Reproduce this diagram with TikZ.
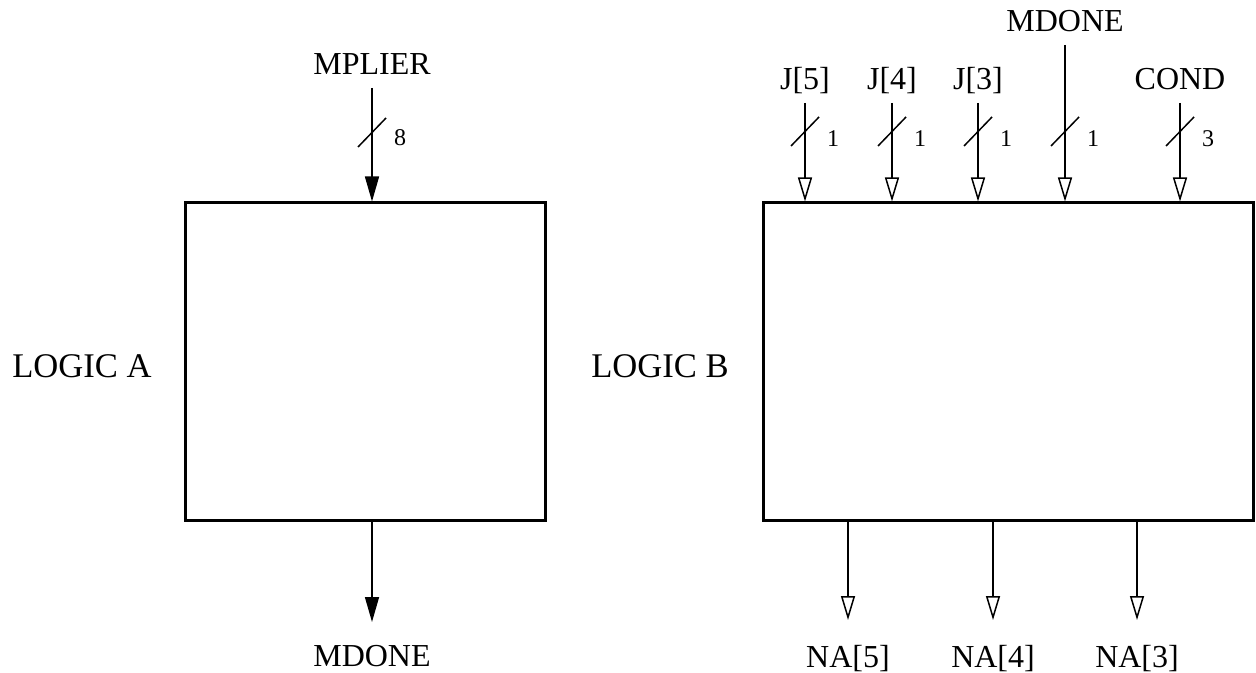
\documentclass[tikz,border=0pt]{standalone}
\usepackage{fontspec}
\setmainfont{Liberation Serif}
\usetikzlibrary{positioning,arrows.meta}

\begin{document}
\begin{tikzpicture}[x=0.5pt, y=-0.5pt, font=\fontsize{16}{19}\selectfont,
  blockbox/.style={draw, line width=1.5pt, inner sep=0pt},
  blockname/.style={anchor=base, inner sep=0pt, font=\fontsize{17.3}{20}\selectfont},
  busline/.style={line width=0.75pt},
  solidin/.style={busline, -{Triangle[length=12.5pt,width=7pt]}},
  openin/.style={busline, -{Triangle[open,length=12pt,width=7pt]}},
  signame/.style={anchor=base, inner sep=0pt},
  widthlabel/.style={font=\fontsize{12}{14}\selectfont, inner sep=0pt}]
  \useasboundingbox (0,0) rectangle (1256,673);
  \clip (0,0) rectangle (1256,673);
  % the two blocks
  \node[blockbox, minimum width=180pt, minimum height=158.5pt] (logica) at (365,361.5) {};
  \node[blockbox, minimum width=245pt, minimum height=158.5pt] (logicb) at (1008,361.5) {};
  \node[blockname] (namea) at (82,377) {LOGIC A};
  \node[blockname] (nameb) at (660,377) {LOGIC B};
  % logic A: input and output
  \node[signame] (mplier) at (372,75) {MPLIER};
  \coordinate (mplierin) at (372,88);
  \draw[solidin] (mplierin) -- (mplierin |- logica.north);
  \draw[busline] (372,132.5) ++(-14,14.5) -- ++(28,-29);
  \node[widthlabel] (mplierw) at (400,138) {8};
  \coordinate (mdoneout) at (372,622);
  \draw[solidin] (mdoneout |- logica.south) -- (mdoneout);
  \node[signame] (mdonea) at (372,666) {MDONE};
  % logic B: inputs
  \foreach \x/\n/\w/\lab in {805/j5/1/{J[5]}, 892/j4/1/{J[4]}, 978/j3/1/{J[3]}, 1180/cond/3/{COND}}{
     \node[signame] (\n) at (\x,90) {\lab};
     \coordinate (\n in) at (\x,103);
     \draw[openin] (\n in) -- (\n in |- logicb.north);
     \draw[busline] (\x,131.5) ++(-14,14.5) -- ++(28,-29);
     \node[widthlabel] (\n w) at (\x+28,139) {\w};
  }
  \node[signame] (mdoneb) at (1065,32) {MDONE};
  \coordinate (mdonein) at (1065,45);
  \draw[openin] (mdonein) -- (mdonein |- logicb.north);
  \draw[busline] (1065,131.5) ++(-14,14.5) -- ++(28,-29);
  \node[widthlabel] (mdonew) at (1093,139) {1};
  % logic B: outputs
  \foreach \x/\n/\lab in {848/na5/{NA[5]}, 993/na4/{NA[4]}, 1137/na3/{NA[3]}}{
     \coordinate (\n out) at (\x,620);
     \draw[openin] (\n out |- logicb.south) -- (\n out);
     \node[signame] (\n) at (\x,667) {\lab};
  }
\end{tikzpicture}
\end{document}
